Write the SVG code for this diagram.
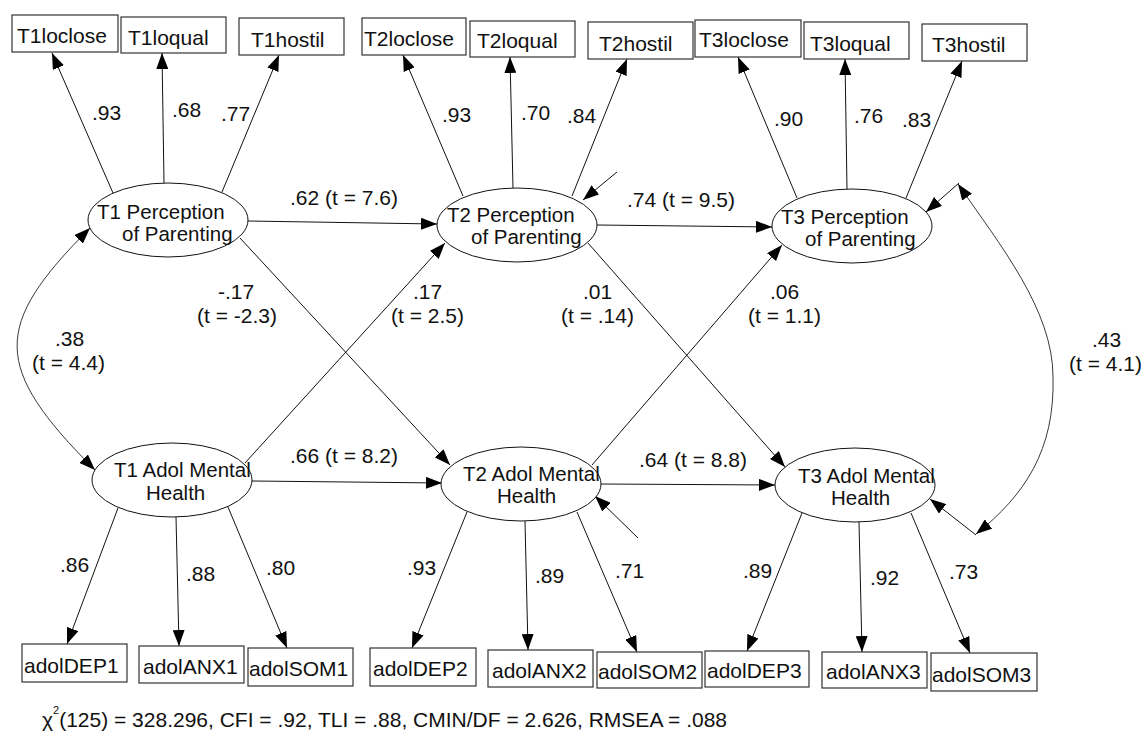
<svg xmlns="http://www.w3.org/2000/svg" width="1143" height="740" viewBox="0 0 1143 740">
<defs>
<marker id="ah" viewBox="0 0 16 12" refX="16" refY="6" markerWidth="16" markerHeight="12" markerUnits="userSpaceOnUse" orient="auto-start-reverse">
<path d="M0,0 L16,6 L0,12 z" fill="#000"/>
</marker>
</defs>
<style>
.box{fill:#fff;stroke:#333;stroke-width:1.2}
.lat{fill:#fff;stroke:#111;stroke-width:1}
text{font-family:"Liberation Sans",Arial,Helvetica,sans-serif;font-size:21px;fill:#111}
.lt{font-size:20.5px}
.c line{stroke:#111;stroke-width:1;fill:none;marker-end:url(#ah)}
.c path{stroke:#222;stroke-width:0.9;fill:none;marker-start:url(#ah);marker-end:url(#ah)}
</style>
<rect width="1143" height="740" fill="#fff"/>
<g id="connectors" class="c">
<line x1="113" y1="193" x2="52" y2="53"/>
<line x1="164" y1="183" x2="162" y2="53"/>
<line x1="222" y1="192" x2="279" y2="55"/>
<line x1="463" y1="196" x2="403" y2="55"/>
<line x1="513" y1="188" x2="510" y2="57"/>
<line x1="572" y1="196" x2="627" y2="59"/>
<line x1="797" y1="198" x2="738" y2="57"/>
<line x1="847" y1="189" x2="845" y2="59"/>
<line x1="906" y1="198" x2="962" y2="61"/>
<line x1="118" y1="508" x2="67" y2="644"/>
<line x1="176" y1="517" x2="179" y2="646"/>
<line x1="228" y1="507" x2="287" y2="648"/>
<line x1="467" y1="512" x2="412" y2="648"/>
<line x1="525" y1="521" x2="528" y2="650"/>
<line x1="577" y1="512" x2="637" y2="652"/>
<line x1="802" y1="513" x2="747" y2="651"/>
<line x1="859" y1="522" x2="862" y2="652"/>
<line x1="911" y1="513" x2="970" y2="653"/>
<line x1="248" y1="221" x2="437" y2="224"/>
<line x1="597" y1="225" x2="772" y2="227"/>
<line x1="240" y1="238" x2="450" y2="465"/>
<line x1="245" y1="463" x2="445" y2="243"/>
<line x1="588" y1="243" x2="785" y2="467"/>
<line x1="592" y1="465" x2="782" y2="245"/>
<line x1="252" y1="481" x2="442" y2="483"/>
<line x1="601" y1="484" x2="775" y2="485"/>
<line x1="617" y1="172" x2="583" y2="200"/>
<line x1="638" y1="538" x2="595" y2="496"/>
<line x1="959" y1="183" x2="926" y2="212"/>
<line x1="976" y1="535" x2="930" y2="499"/>
<path d="M90,228 C-8,326 -8,367 95,470"/>
<path d="M958,184 C1000,245 1053,310 1053,377 C1055,450 1025,495 976,534" stroke="#444" stroke-width="0.8"/>
<text x="92" y="120">.93</text>
<text x="172" y="117">.68</text>
<text x="221" y="121">.77</text>
<text x="442" y="122">.93</text>
<text x="521" y="120">.70</text>
<text x="567" y="123">.84</text>
<text x="774" y="126">.90</text>
<text x="854" y="123">.76</text>
<text x="902" y="127">.83</text>
<text x="60" y="572">.86</text>
<text x="186" y="581">.88</text>
<text x="266" y="575">.80</text>
<text x="407" y="575">.93</text>
<text x="535" y="583">.89</text>
<text x="615" y="578">.71</text>
<text x="743" y="578">.89</text>
<text x="870" y="585">.92</text>
<text x="949" y="579">.73</text>
<text x="290" y="205">.62 (t = 7.6)</text>
<text x="627" y="207">.74 (t = 9.5)</text>
<text x="290" y="463">.66 (t = 8.2)</text>
<text x="639" y="467">.64 (t = 8.8)</text>
<text x="218" y="299">-.17</text>
<text x="197" y="323">(t = -2.3)</text>
<text x="413" y="299">.17</text>
<text x="391" y="323">(t = 2.5)</text>
<text x="583" y="299">.01</text>
<text x="561" y="323">(t = .14)</text>
<text x="770" y="299">.06</text>
<text x="748" y="323">(t = 1.1)</text>
<text x="55" y="346">.38</text>
<text x="32" y="370">(t = 4.4)</text>
<text x="1092" y="347">.43</text>
<text x="1069" y="371">(t = 4.1)</text>
</g>
<g id="T1loclose"><rect class="box" x="12" y="15" width="106" height="37"/><text x="17" y="43">T1loclose</text></g>
<g id="T1loqual"><rect class="box" x="121" y="17" width="105" height="36"/><text x="128" y="45">T1loqual</text></g>
<g id="T1hostil"><rect class="box" x="239" y="18" width="105" height="37"/><text x="251" y="47">T1hostil</text></g>
<g id="T2loclose"><rect class="box" x="362" y="18" width="104" height="37"/><text x="364" y="46">T2loclose</text></g>
<g id="T2loqual"><rect class="box" x="470" y="21" width="105" height="36"/><text x="477" y="48">T2loqual</text></g>
<g id="T2hostil"><rect class="box" x="588" y="22" width="105" height="37"/><text x="599" y="51">T2hostil</text></g>
<g id="T3loclose"><rect class="box" x="695" y="20" width="106" height="37"/><text x="699" y="47">T3loclose</text></g>
<g id="T3loqual"><rect class="box" x="804" y="22" width="105" height="37"/><text x="810" y="51">T3loqual</text></g>
<g id="T3hostil"><rect class="box" x="922" y="24" width="105" height="37"/><text x="932" y="52">T3hostil</text></g>
<g id="T1Perception"><ellipse class="lat" cx="168" cy="220" rx="80" ry="37"/><text class="lt" x="97" y="219">T1 Perception</text><text class="lt" x="122" y="241">of Parenting</text></g>
<g id="T2Perception"><ellipse class="lat" cx="517" cy="225" rx="80" ry="37"/><text class="lt" x="447" y="222">T2 Perception</text><text class="lt" x="471" y="244">of Parenting</text></g>
<g id="T3Perception"><ellipse class="lat" cx="852" cy="226" rx="80" ry="37"/><text class="lt" x="781" y="224">T3 Perception</text><text class="lt" x="805" y="246">of Parenting</text></g>
<g id="T1Mental"><ellipse class="lat" cx="172" cy="480" rx="80" ry="37"/><text class="lt" x="114" y="477">T1 Adol Mental</text><text class="lt" x="146" y="500">Health</text></g>
<g id="T2Mental"><ellipse class="lat" cx="521" cy="484" rx="80" ry="37"/><text class="lt" x="463" y="481">T2 Adol Mental</text><text class="lt" x="497" y="503">Health</text></g>
<g id="T3Mental"><ellipse class="lat" cx="855" cy="485" rx="80" ry="37"/><text class="lt" x="798" y="483">T3 Adol Mental</text><text class="lt" x="831" y="505">Health</text></g>
<g id="adolDEP1"><rect class="box" x="22" y="644" width="105" height="38"/><text x="24" y="673">adolDEP1</text></g>
<g id="adolANX1"><rect class="box" x="139" y="646" width="105" height="37"/><text x="143" y="674">adolANX1</text></g>
<g id="adolSOM1"><rect class="box" x="248" y="648" width="105" height="38"/><text x="249" y="676">adolSOM1</text></g>
<g id="adolDEP2"><rect class="box" x="370" y="648" width="106" height="38"/><text x="373" y="676">adolDEP2</text></g>
<g id="adolANX2"><rect class="box" x="488" y="650" width="105" height="37"/><text x="492" y="678">adolANX2</text></g>
<g id="adolSOM2"><rect class="box" x="597" y="652" width="105" height="36"/><text x="598" y="679">adolSOM2</text></g>
<g id="adolDEP3"><rect class="box" x="705" y="651" width="104" height="36"/><text x="707" y="678">adolDEP3</text></g>
<g id="adolANX3"><rect class="box" x="822" y="652" width="105" height="36"/><text x="826" y="679">adolANX3</text></g>
<g id="adolSOM3"><rect class="box" x="931" y="653" width="106" height="38"/><text x="932" y="682">adolSOM3</text></g>
<g id="fit"><text x="42" y="727">χ<tspan font-size="11" dy="-13">2</tspan><tspan dy="13">(125) = 328.296, CFI = .92, TLI = .88, CMIN/DF = 2.626, RMSEA = .088</tspan></text></g>
</svg>
